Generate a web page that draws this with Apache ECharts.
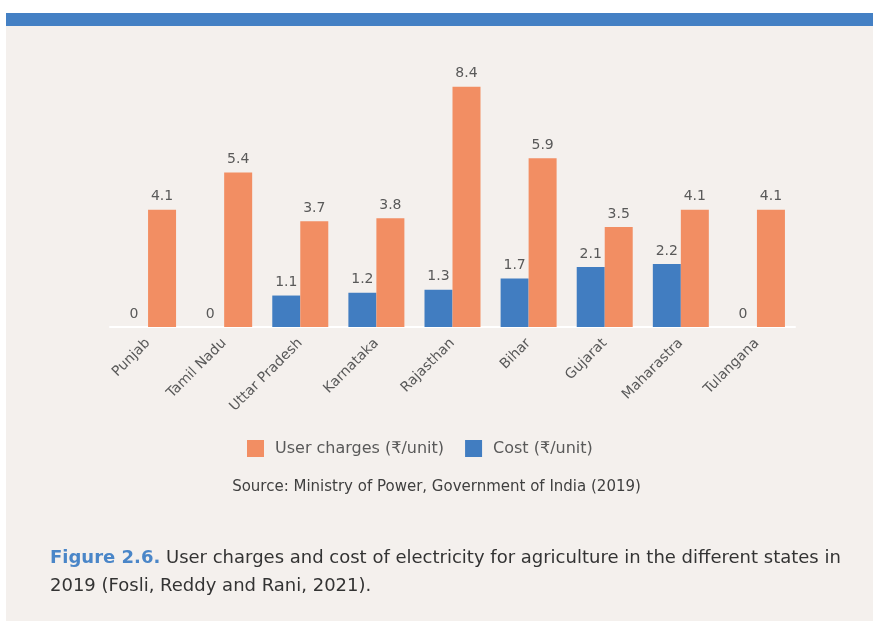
<!DOCTYPE html>
<html><head><meta charset="utf-8">
<script src="https://cdn.jsdelivr.net/npm/echarts@6/dist/echarts.min.js"></script>
<style>html,body{margin:0;padding:0;background:#fff}#c{width:873px;height:621px}</style>
</head><body><div id="c"></div>
<script>
const categories = ['Punjab','Tamil Nadu','Uttar Pradesh','Karnataka','Rajasthan','Bihar','Gujarat','Maharastra','Tulangana'];
const cost = [0, 0, 1.1, 1.2, 1.3, 1.7, 2.1, 2.2, 0];
const userCharges = [4.1, 5.4, 3.7, 3.8, 8.4, 5.9, 3.5, 4.1, 4.1];
const F = "'DejaVu Sans', sans-serif";
const chart = echarts.init(document.getElementById('c'));
const lbl = {show:true, position:'top', color:'#595959', fontSize:14, fontFamily:F, distance:6};
chart.setOption({
  backgroundColor:'#ffffff',
  animation:false,
  graphic:[
    {type:'rect', z:-10, shape:{x:6,y:26,width:867,height:595}, style:{fill:'#F4F0ED'}},
    {type:'rect', z:-10, shape:{x:6,y:13,width:867,height:13}, style:{fill:'#4480C4'}},
    {type:'text', left:'center', top:480, style:{text:'Source: Ministry of Power, Government of India (2019)', fill:'#404040', font:"15px "+F}},
    {type:'text', left:50, top:549, style:{rich:{b:{fill:'#4A86C8',fontWeight:'bold',fontSize:18,fontFamily:F},n:{fill:'#333333',fontSize:18,fontFamily:F}}, text:'{b|Figure 2.6.}{n| User charges and cost of electricity for agriculture in the different states in}'}},
    {type:'text', left:50, top:577, style:{text:'2019 (Fosli, Reddy and Rani, 2021).', fill:'#333333', font:"18px "+F}}
  ],
  legend:{
    data:['User charges (₹/unit)','Cost (₹/unit)'],
    left:247, top:440, padding:0, itemWidth:17, itemHeight:17, itemGap:21,
    icon:'rect',
    textStyle:{color:'#595959', fontSize:16, fontFamily:F, padding:[0,0,0,6]}
  },
  grid:{left:110, width:685, top:41, height:286},
  xAxis:{
    type:'category', data:categories,
    axisLine:{show:true, lineStyle:{color:'#ffffff', width:2}},
    axisTick:{show:false},
    axisLabel:{rotate:45, color:'#595959', fontSize:14, fontFamily:F, margin:14, interval:0}
  },
  yAxis:{type:'value', min:0, max:10, show:false, splitLine:{show:false}},
  series:[
    {name:'Cost (₹/unit)', type:'bar', data:cost, barWidth:28, barGap:'0%', itemStyle:{color:'#417DC1'}, label:lbl},
    {name:'User charges (₹/unit)', type:'bar', data:userCharges, barWidth:28, barGap:'0%', itemStyle:{color:'#F28E63'}, label:lbl}
  ]
});
</script></body></html>
